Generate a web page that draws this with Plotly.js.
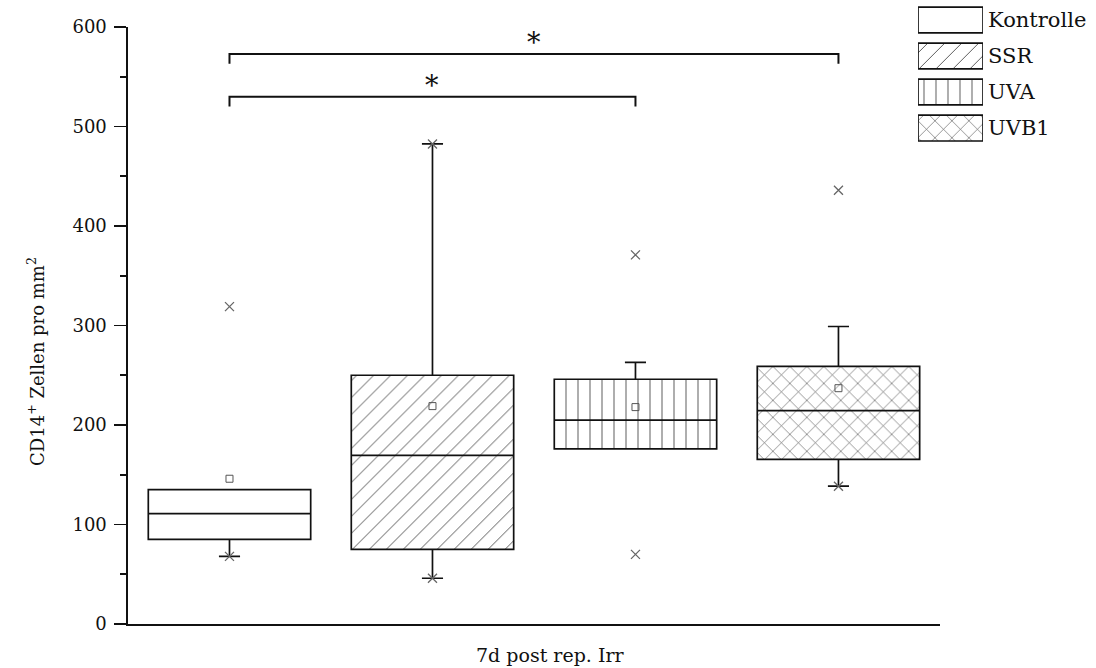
<!DOCTYPE html>
<html>
<head>
<meta charset="utf-8">
<script src="https://cdn.plot.ly/plotly-3.0.1.min.js"></script>
<style>html,body{margin:0;padding:0;background:#fff;}#chart{width:1096px;height:668px;}</style>
</head>
<body>
<div id="chart"></div>
<script>
// ---- data ----
const categories = ['Kontrolle', 'SSR', 'UVA', 'UVB1'];
const q1 = [85, 75, 176, 165.5];
const median = [111, 169.5, 205, 214.5];
const q3 = [135, 250, 246, 259];
const whiskerLow = [68, 46, 176, 138.5];
const whiskerHigh = [135, 482.5, 263, 299];
const means = [146, 219, 218, 237];
const minVals = [68, 46, 70, 138.5];
const maxVals = [319, 482.5, 371, 436];
const patternShapes = ['', '/', '|', 'x'];
const patternSizes = [10, 12, 12, 12];
const patternSolidity = [0.08, 0.08, 0.08, 0.1];
const yTickVals = [0, 100, 200, 300, 400, 500, 600];
const sigFrom = [1, 1];
const sigTo = [3, 4];
const sigLevel = [530, 573];
const sigText = ['*', '*'];
const xTitle = '7d post rep. Irr';
const yTitle = 'CD14<sup>+</sup> Zellen pro mm<sup>2</sup>';

const FONT = 'DejaVu Serif';
const xs = categories.map((c, i) => i + 1);

const traces = [];
// patterned box bodies
traces.push({
  type: 'bar', x: xs, base: q1, y: q3.map((v, i) => v - q1[i]), width: 0.8,
  marker: {color: '#fff', line: {width: 0},
    pattern: {shape: patternShapes, size: patternSizes, solidity: patternSolidity, fgcolor: '#555', bgcolor: '#fff'}},
  hoverinfo: 'skip', showlegend: false, xaxis: 'x', yaxis: 'y'
});
// box outlines, medians, whiskers
categories.forEach((c, i) => {
  traces.push({
    type: 'box', x: [xs[i]], q1: [q1[i]], median: [median[i]], q3: [q3[i]],
    lowerfence: [whiskerLow[i]], upperfence: [whiskerHigh[i]],
    width: 0.8, whiskerwidth: 0.13, fillcolor: 'rgba(0,0,0,0)',
    line: {color: '#111', width: 1.7}, boxpoints: false, hoverinfo: 'skip',
    showlegend: false, xaxis: 'x', yaxis: 'y'
  });
});
// means
traces.push({type: 'scatter', mode: 'markers', x: xs, y: means,
  marker: {symbol: 'square-open', size: 7, color: '#555', line: {width: 1}},
  hoverinfo: 'skip', showlegend: false, xaxis: 'x', yaxis: 'y'});
// min / max
traces.push({type: 'scatter', mode: 'markers', x: xs.concat(xs), y: minVals.concat(maxVals),
  marker: {symbol: 'x-thin-open', size: 9, color: '#666', line: {width: 1.3, color: '#666'}},
  hoverinfo: 'skip', showlegend: false, xaxis: 'x', yaxis: 'y'});
// legend swatches
traces.push({
  type: 'bar', orientation: 'h', y: categories, x: categories.map(() => 1), base: 0, width: 0.72,
  marker: {color: '#fff', line: {width: 1.7, color: '#111'},
    pattern: {shape: patternShapes, size: patternSizes, solidity: patternSolidity, fgcolor: '#555', bgcolor: '#fff'}},
  hoverinfo: 'skip', showlegend: false, xaxis: 'x2', yaxis: 'y2'
});

// significance brackets
const shapes = [];
const annotations = [];
sigFrom.forEach((a, k) => {
  const b = sigTo[k], h = sigLevel[k], d = 10;
  shapes.push({type: 'path', xref: 'x', yref: 'y',
    path: `M ${a} ${h - d} L ${a} ${h} L ${b} ${h} L ${b} ${h - d}`,
    line: {color: '#111', width: 2}});
  annotations.push({xref: 'x', yref: 'y', x: (a + b) / 2, y: h - 6, text: sigText[k],
    showarrow: false, yanchor: 'bottom', font: {family: FONT, size: 27, color: '#111'}});
});
annotations.push({xref: 'paper', yref: 'paper', x: 0.436, y: -0.05, text: xTitle, showarrow: false,
  xanchor: 'center', yanchor: 'middle', font: {family: FONT, size: 19, color: '#111'}});
annotations.push({xref: 'paper', yref: 'paper', x: -0.095, y: 0.42, text: yTitle, showarrow: false,
  textangle: -90, xanchor: 'center', yanchor: 'middle', font: {family: FONT, size: 18, color: '#111'}});

const layout = {
  width: 1096, height: 668,
  margin: {l: 128, r: 0, t: 0, b: 44},
  paper_bgcolor: '#fff', plot_bgcolor: '#fff',
  showlegend: false, barmode: 'overlay', boxmode: 'overlay',
  font: {family: FONT, size: 18, color: '#111'},
  xaxis: {domain: [0, 0.8388], range: [0.5, 4.5], showline: true, linewidth: 1.6, linecolor: '#111',
    ticks: '', showticklabels: false, showgrid: false, zeroline: false, fixedrange: true},
  yaxis: {domain: [0, 0.9567], range: [0, 600], tickvals: yTickVals, showline: true, linewidth: 1.6,
    linecolor: '#111', ticks: 'outside', ticklen: 12, tickwidth: 1.6, tickcolor: '#111',
    ticklabelstandoff: 4,
    minor: {dtick: 50, tick0: 0, ticks: 'outside', ticklen: 6, tickwidth: 1.6, tickcolor: '#111'},
    tickfont: {family: FONT, size: 18, color: '#111'}, showgrid: false, zeroline: false, fixedrange: true},
  xaxis2: {domain: [0.8161, 0.8833], range: [0, 1], anchor: 'y2', visible: false, fixedrange: true},
  yaxis2: {domain: [0.766, 0.9968], range: [3.5, -0.5], anchor: 'x2', side: 'right', type: 'category',
    showline: false, showgrid: false, zeroline: false, ticks: '', ticklabelstandoff: 4,
    tickfont: {family: FONT, size: 21, color: '#111'}, fixedrange: true},
  shapes: shapes,
  annotations: annotations
};

Plotly.newPlot('chart', traces, layout, {staticPlot: true, displayModeBar: false});
</script>
</body>
</html>
